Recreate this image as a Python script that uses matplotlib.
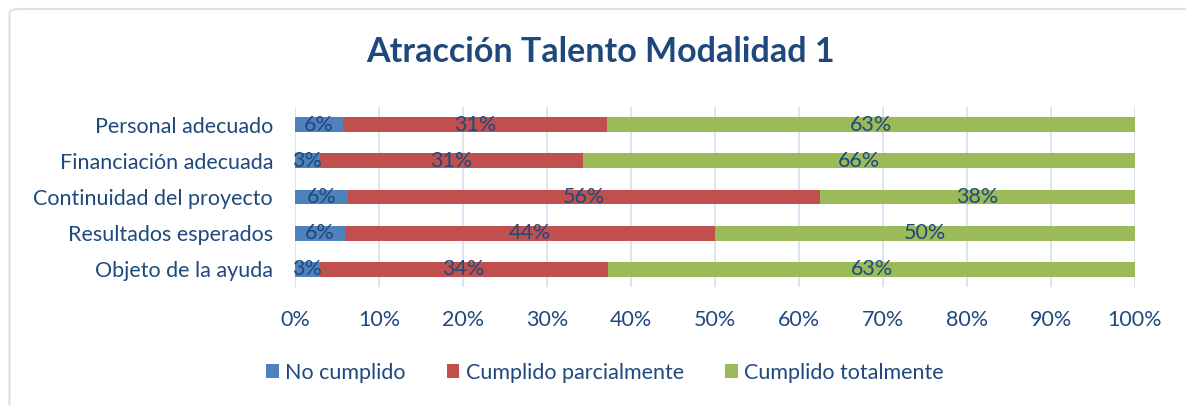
import matplotlib.pyplot as plt
import matplotlib.patches as mpatches
import numpy as np

categories = ['Objeto de la ayuda', 'Resultados esperados', 'Continuidad del proyecto',
              'Financiación adecuada', 'Personal adecuado']
no_cumplido = [2.9, 5.9, 6.25, 2.9, 5.7]
parcial = [34.3, 44.1, 56.25, 31.4, 31.4]
total = [62.9, 50.0, 37.5, 65.7, 62.9]

series_names = ['No cumplido', 'Cumplido parcialmente', 'Cumplido totalmente']
colors = ['#4F81BD', '#C0504D', '#9BBB59']
text_color = '#1F497D'
fs = 15.5

plt.rcParams['font.family'] = ['Lato', 'DejaVu Sans']

fig = plt.figure(figsize=(11.86, 4.05), dpi=100)
ax = fig.add_axes([0.249, 0.2906, 0.708, 0.4459])

# chart border
fig.patches.append(mpatches.FancyBboxPatch((0.008, -0.1), 1.2, 1.078, boxstyle='round,pad=0,rounding_size=0.01',
                                           transform=fig.transFigure, facecolor='none',
                                           edgecolor='#D6E0EE', linewidth=1.5))

y = np.arange(len(categories))
left = np.zeros(len(categories))
for vals, name, col in zip([no_cumplido, parcial, total], series_names, colors):
    vals = np.array(vals)
    ax.barh(y, vals, left=left, height=0.41, color=col, label=name, zorder=3)
    for yi, l, v in zip(y, left, vals):
        ax.text(l + v / 2, yi, f'{v:.0f}%', ha='center', va='center',
                color=text_color, fontsize=fs, zorder=4)
    left += vals

ax.set_xlim(0, 100)
ax.set_ylim(-0.5, len(categories) - 0.5)
ax.set_xticks(np.arange(0, 101, 10))
ax.set_xticklabels([f'{t}%' for t in range(0, 101, 10)])
ax.set_yticks(y)
ax.set_yticklabels(categories)
ax.tick_params(length=0, labelcolor=text_color, labelsize=fs)
ax.tick_params(axis='x', pad=16)
ax.tick_params(axis='y', pad=16)
ax.grid(True, axis='x', color='#D3DFF0', linewidth=1.2, zorder=0)
for s in ax.spines.values():
    s.set_visible(False)

fig.suptitle('Atracción Talento Modalidad 1', x=0.506, y=0.872, va='center', fontsize=24.5,
             fontweight='bold', color=text_color)

leg = fig.legend(loc='center', bbox_to_anchor=(0.51, 0.08), ncol=3, frameon=False,
                 fontsize=fs, handlelength=0.6, handleheight=0.6, handletextpad=0.3,
                 columnspacing=1.9)
for t in leg.get_texts():
    t.set_color(text_color)

plt.savefig('out.png', dpi=100)
